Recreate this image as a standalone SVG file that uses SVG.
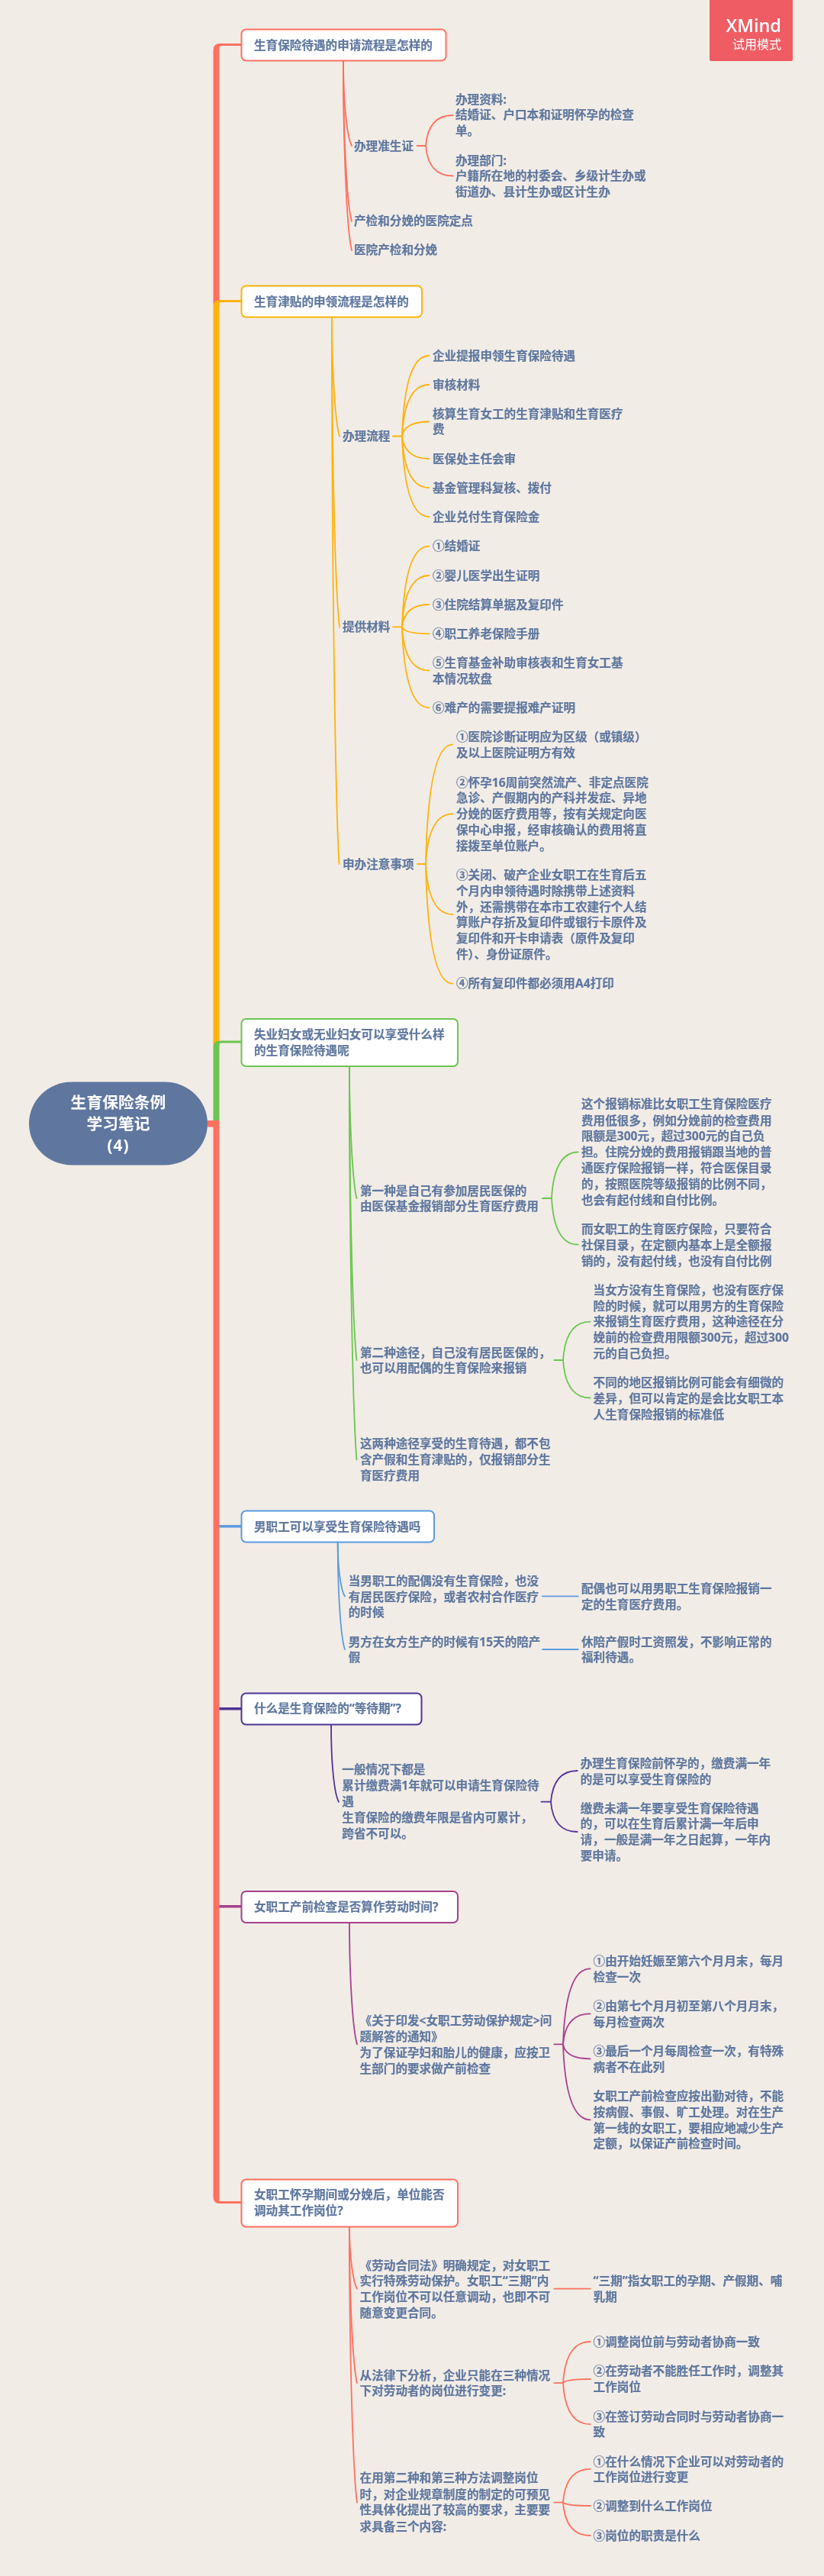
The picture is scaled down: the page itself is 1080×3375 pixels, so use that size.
<svg xmlns="http://www.w3.org/2000/svg" width="1080" height="3375" viewBox="0 0 1080 3375">
<defs><filter id="soft" x="0" y="0" width="1080" height="3375" filterUnits="userSpaceOnUse" primitiveUnits="userSpaceOnUse"><feGaussianBlur stdDeviation="0.4"/></filter></defs>
<style>
text{font-family:"Noto Sans","Noto Sans CJK SC",sans-serif;}
.z{font-family:"Noto Sans CJK SC",sans-serif;}
.t{font-size:15.6px;font-weight:700;fill:#5f779f;stroke:#5f779f;stroke-width:0.2px;}
.box{fill:#fff;stroke-width:2;}
.l{fill:none;stroke-width:1.8;stroke-linecap:round;}
.cr{stroke:#ff6f5e;}.ca{stroke:#ffb20b;}.cg{stroke:#6cc551;}.cb{stroke:#5b9be0;}.cp{stroke:#4e3596;}.cm{stroke:#a6418d;}
</style>
<rect width="1080" height="3375" fill="#f1ece6"/>
<g filter="url(#soft)">
<g id="connectors">
<path fill="#ff6f5e" d="M279.5 400V66Q279.5 57 288.5 57H316.5V60H290Q287.5 60 287.5 63V400Z"/>
<path fill="#ffb20b" d="M279.5 1372V402Q279.5 393 288.5 393H316.5V396H290Q287.5 396 287.5 399V1372Z"/>
<path fill="#6cc551" d="M279.5 1468V1372Q279.5 1363.5 288.5 1363.5H316.5V1366.5H290Q287.5 1366.5 287.5 1369V1468Z"/>
<path fill="#5b9be0" d="M287 1998H316.5V2001.5H287Z"/>
<path fill="#4e3596" d="M287 2237H316.5V2240.5H287Z"/>
<path fill="#a6418d" d="M287 2496H316.5V2499.5H287Z"/>
<path fill="#ff6f5e" d="M272 1468H287.5V2884H316.5V2887H288Q279.5 2887 279.5 2878V1476.5H272Z"/>
<path class="l cr" d="M450 80C450 135 455 180 461 191"/>
<path class="l cr" d="M450 80C450 185 455 269 461 290"/>
<path class="l cr" d="M450 80C450 204 455 303 461 328"/>
<path class="l cr" d="M546.6 191H558C560 167 570 151 593.7 151"/>
<path class="l cr" d="M558 191C560 215 570 230.5 593.7 230.5"/>
<path class="l ca" d="M435 415C435 493 440 556 445 571.5"/>
<path class="l ca" d="M435 415C435 618 440 781 445 821.3"/>
<path class="l ca" d="M435 415C435 774 440 1060 444.5 1132"/>
<path class="l ca" d="M515 571.5H527C529 508 539 466 562.3 466"/>
<path class="l ca" d="M527 571.5C529 531 539 504 562.3 504"/>
<path class="l ca" d="M527 571.5C529 560 539 552.5 562.3 552.5"/>
<path class="l ca" d="M527 571.5C529 589 539 601 562.3 601"/>
<path class="l ca" d="M527 571.5C529 612 539 639 562.3 639"/>
<path class="l ca" d="M527 571.5C529 635 539 677 562.3 677"/>
<path class="l ca" d="M515 821.3H527C529 758 539 715.7 562.3 715.7"/>
<path class="l ca" d="M527 821.3C529 781 539 754 562.3 754"/>
<path class="l ca" d="M527 821.3C529 804 539 792 562.3 792"/>
<path class="l ca" d="M527 821.3C529 827 539 830.4 562.3 830.4"/>
<path class="l ca" d="M527 821.3C529 855.6 539 878.5 562.3 878.5"/>
<path class="l ca" d="M527 821.3C529 885 539 927.2 562.3 927.2"/>
<path class="l ca" d="M547 1132H558C560 1038 570 975.3 593.3 975.3"/>
<path class="l ca" d="M558 1132C560 1092.6 570 1066.3 593.3 1066.3"/>
<path class="l ca" d="M558 1132C560 1171.6 570 1198 593.3 1198"/>
<path class="l ca" d="M558 1132C560 1226 570 1288.7 593.3 1288.7"/>
<path class="l cg" d="M458 1397C458 1483 463 1553 467.5 1570"/>
<path class="l cg" d="M458 1397C458 1590 463 1743 467.5 1782"/>
<path class="l cg" d="M458 1397C458 1655 463 1861 467.5 1912.4"/>
<path class="l cg" d="M711 1570H723C725 1534 735 1509.5 757.7 1509.5"/>
<path class="l cg" d="M723 1570C725 1606 735 1630.7 757.7 1630.7"/>
<path class="l cg" d="M726.4 1782H738C740 1752 750 1731.6 773.6 1731.6"/>
<path class="l cg" d="M738 1782C740 1812 750 1831.5 773.6 1831.5"/>
<path class="l cb" d="M442.7 2021C442.7 2056 447 2084 452 2091.4"/>
<path class="l cb" d="M442.7 2021C442.7 2091 447 2147 452 2161"/>
<path class="l cb" d="M711 2091.4H757.7"/>
<path class="l cb" d="M711 2161H757.7"/>
<path class="l cp" d="M434 2259.5C434 2310 438 2350 444 2360.7"/>
<path class="l cp" d="M709.5 2360.7H722C724 2336 734 2320 756.7 2320"/>
<path class="l cp" d="M722 2360.7C724 2385 734 2400 756.7 2400"/>
<path class="l cm" d="M458 2519C458 2599 463 2662 468 2678.3"/>
<path class="l cm" d="M726.4 2678.3H738C740 2619 750 2579.3 773.6 2579.3"/>
<path class="l cm" d="M738 2678.3C740 2654 750 2638.3 773.6 2638.3"/>
<path class="l cm" d="M738 2678.3C740 2690 750 2697.3 773.6 2697.3"/>
<path class="l cm" d="M738 2678.3C740 2737.7 750 2777.3 773.6 2777.3"/>
<path class="l cr" d="M458 2918C458 2958 463 2990 468 2998.7"/>
<path class="l cr" d="M458 2918C458 3020 463 3102 468 3122.2"/>
<path class="l cr" d="M458 2918C458 3098 463 3242 468 3278.6"/>
<path class="l cr" d="M726.4 2998.7H773.6"/>
<path class="l cr" d="M726.4 3122.2H738C740 3090 750 3068 773.6 3068"/>
<path class="l cr" d="M738 3122.2C740 3119 750 3117 773.6 3117"/>
<path class="l cr" d="M738 3122.2C740 3154.6 750 3176.2 773.6 3176.2"/>
<path class="l cr" d="M726.4 3278.6H738C740 3252 750 3234.9 773.6 3234.9"/>
<path class="l cr" d="M738 3278.6C740 3281 750 3283 773.6 3283"/>
<path class="l cr" d="M738 3278.6C740 3304.6 750 3322 773.6 3322"/>
</g>

<g id="badge"><rect x="930" y="-4" width="109" height="84" rx="2" fill="#ef5b64"/>
<text x="1024" y="41.5" text-anchor="end" font-size="23.5" font-weight="600" fill="#fff" style="font-family:'Open Sans','Noto Sans CJK SC',sans-serif">XMind</text>
<text x="1024" y="64" text-anchor="end" font-size="16" fill="#fff" style="font-family:'Noto Sans CJK SC',sans-serif">试用模式</text></g>

<g id="central"><rect x="38" y="1417.5" width="234" height="109" rx="56" ry="54.5" fill="#5f779f"/>
<g fill="#fff" font-size="20.8" font-weight="700" text-anchor="middle">
<text x="155" y="1451.5">生育保险条例</text><text x="155" y="1479.5">学习笔记</text><text x="155" y="1508" letter-spacing="1">(4)</text></g></g>

<g id="n1"><rect class="box cr" x="316.5" y="38.5" width="268" height="41" rx="6"/><text class="t" x="333" y="64.5">生育保险待遇的申请流程是怎样的</text></g>
<g id="n1-1"><text class="t" x="464" y="196.5">办理准生证</text></g>
<g id="n1-1-1"><text class="t" x="597" y="135.5">办理资料:</text><text class="t" x="597" y="156.2">结婚证、户口本和证明怀孕的检查</text><text class="t" x="597" y="177">单。</text></g>
<g id="n1-1-2"><text class="t" x="597" y="215.5">办理部门:</text><text class="t" x="597" y="236">户籍所在地的村委会、乡级计生办或</text><text class="t" x="597" y="257">街道办、县计生办或区计生办</text></g>
<g id="n1-2"><text class="t" x="464" y="294.5">产检和分娩的医院定点</text></g>
<g id="n1-3"><text class="t" x="464" y="333">医院产检和分娩</text></g>

<g id="n2"><rect class="box ca" x="316.5" y="374.5" width="236.5" height="41" rx="6"/><text class="t" x="333" y="400.5">生育津贴的申领流程是怎样的</text></g>
<g id="n2-1"><text class="t" x="449" y="577">办理流程</text></g>
<g id="n2-1-1"><text class="t" x="567" y="471.5">企业提报申领生育保险待遇</text></g>
<g id="n2-1-2"><text class="t" x="567" y="509.5">审核材料</text></g>
<g id="n2-1-3"><text class="t" x="567" y="547.7">核算生育女工的生育津贴和生育医疗</text><text class="t" x="567" y="568.3">费</text></g>
<g id="n2-1-4"><text class="t" x="567" y="606.5">医保处主任会审</text></g>
<g id="n2-1-5"><text class="t" x="567" y="644.5">基金管理科复核、拨付</text></g>
<g id="n2-1-6"><text class="t" x="567" y="682.5">企业兑付生育保险金</text></g>
<g id="n2-2"><text class="t" x="449" y="826.8">提供材料</text></g>
<g id="n2-2-1"><text class="t" x="567" y="721.2"><tspan class="z">①</tspan>结婚证</text></g>
<g id="n2-2-2"><text class="t" x="567" y="759.5"><tspan class="z">②</tspan>婴儿医学出生证明</text></g>
<g id="n2-2-3"><text class="t" x="567" y="797.5"><tspan class="z">③</tspan>住院结算单据及复印件</text></g>
<g id="n2-2-4"><text class="t" x="567" y="835.9"><tspan class="z">④</tspan>职工养老保险手册</text></g>
<g id="n2-2-5"><text class="t" x="567" y="873.8"><tspan class="z">⑤</tspan>生育基金补助审核表和生育女工基</text><text class="t" x="567" y="894.7">本情况软盘</text></g>
<g id="n2-2-6"><text class="t" x="567" y="932.7"><tspan class="z">⑥</tspan>难产的需要提报难产证明</text></g>
<g id="n2-3"><text class="t" x="449" y="1137.5">申办注意事项</text></g>
<g id="n2-3-1"><text class="t" x="598" y="970.5"><tspan class="z">①</tspan>医院诊断证明应为区级（或镇级）</text><text class="t" x="598" y="992.2">及以上医院证明方有效</text></g>
<g id="n2-3-2"><text class="t" x="598" y="1030.5"><tspan class="z">②</tspan>怀孕16周前突然流产、非定点医院</text><text class="t" x="598" y="1051.2">急诊、产假期内的产科并发症、异地</text><text class="t" x="598" y="1071.8">分娩的医疗费用等，按有关规定向医</text><text class="t" x="598" y="1092.8">保中心申报，经审核确认的费用将直</text><text class="t" x="598" y="1113.5">接拨至单位账户。</text></g>
<g id="n2-3-3"><text class="t" x="598" y="1152.2"><tspan class="z">③</tspan>关闭、破产企业女职工在生育后五</text><text class="t" x="598" y="1172.8">个月内申领待遇时除携带上述资料</text><text class="t" x="598" y="1193.5">外，还需携带在本市工农建行个人结</text><text class="t" x="598" y="1214.2">算账户存折及复印件或银行卡原件及</text><text class="t" x="598" y="1234.8">复印件和开卡申请表（原件及复印</text><text class="t" x="598" y="1255.5">件）、身份证原件。</text></g>
<g id="n2-3-4"><text class="t" x="598" y="1294.2"><tspan class="z">④</tspan>所有复印件都必须用A4打印</text></g>

<g id="n3"><rect class="box cg" x="316.5" y="1335" width="283.5" height="62" rx="6"/><text class="t" x="333" y="1360.8">失业妇女或无业妇女可以享受什么样</text><text class="t" x="333" y="1381.5">的生育保险待遇呢</text></g>
<g id="n3-1"><text class="t" x="472" y="1565.5">第一种是自己有参加居民医保的</text><text class="t" x="472" y="1586.3">由医保基金报销部分生育医疗费用</text></g>
<g id="n3-1-1"><text class="t" x="762" y="1452.4">这个报销标准比女职工生育保险医疗</text><text class="t" x="762" y="1473.7">费用低很多，例如分娩前的检查费用</text><text class="t" x="762" y="1494.4">限额是300元，超过300元的自己负</text><text class="t" x="762" y="1515.4">担。住院分娩的费用报销跟当地的普</text><text class="t" x="762" y="1536.4">通医疗保险报销一样，符合医保目录</text><text class="t" x="762" y="1557">的，按照医院等级报销的比例不同，</text><text class="t" x="762" y="1578">也会有起付线和自付比例。</text></g>
<g id="n3-1-2"><text class="t" x="762" y="1615.9">而女职工的生育医疗保险，只要符合</text><text class="t" x="762" y="1636.6">社保目录，在定额内基本上是全额报</text><text class="t" x="762" y="1657.9">销的，没有起付线，也没有自付比例</text></g>
<g id="n3-2"><text class="t" x="472" y="1777.5">第二种途径，自己没有居民医保的，</text><text class="t" x="472" y="1798.1">也可以用配偶的生育保险来报销</text></g>
<g id="n3-2-1"><text class="t" x="777.6" y="1695.8">当女方没有生育保险，也没有医疗保</text><text class="t" x="777.6" y="1716.5">险的时候，就可以用男方的生育保险</text><text class="t" x="777.6" y="1737.1">来报销生育医疗费用，这种途径在分</text><text class="t" x="777.6" y="1757.8">娩前的检查费用限额300元，超过300</text><text class="t" x="777.6" y="1778.5">元的自己负担。</text></g>
<g id="n3-2-2"><text class="t" x="777.6" y="1817.4">不同的地区报销比例可能会有细微的</text><text class="t" x="777.6" y="1838">差异，但可以肯定的是会比女职工本</text><text class="t" x="777.6" y="1858.7">人生育保险报销的标准低</text></g>
<g id="n3-3"><text class="t" x="472" y="1897.3">这两种途径享受的生育待遇，都不包</text><text class="t" x="472" y="1917.9">含产假和生育津贴的，仅报销部分生</text><text class="t" x="472" y="1938.5">育医疗费用</text></g>

<g id="n4"><rect class="box cb" x="316.5" y="1979.5" width="252.5" height="41" rx="6"/><text class="t" x="333" y="2005.5">男职工可以享受生育保险待遇吗</text></g>
<g id="n4-1"><text class="t" x="456.7" y="2076.5">当男职工的配偶没有生育保险，也没</text><text class="t" x="456.7" y="2097.5">有居民医疗保险，或者农村合作医疗</text><text class="t" x="456.7" y="2118.4">的时候</text></g>
<g id="n4-1-1"><text class="t" x="762" y="2086.9">配偶也可以用男职工生育保险报销一</text><text class="t" x="762" y="2108">定的生育医疗费用。</text></g>
<g id="n4-2"><text class="t" x="456.7" y="2156.5">男方在女方生产的时候有15天的陪产</text><text class="t" x="456.7" y="2177.3">假</text></g>
<g id="n4-2-1"><text class="t" x="762" y="2156.5">休陪产假时工资照发，不影响正常的</text><text class="t" x="762" y="2177.3">福利待遇。</text></g>

<g id="n5"><rect class="box cp" x="316.5" y="2218.5" width="236" height="41" rx="6"/><text class="t" x="333" y="2244.3">什么是生育保险的“等待期”?</text></g>
<g id="n5-1"><text class="t" x="448.3" y="2324.1">一般情况下都是</text><text class="t" x="448.3" y="2344.8">累计缴费满1年就可以申请生育保险待</text><text class="t" x="448.3" y="2365.5">遇</text><text class="t" x="448.3" y="2386.9">生育保险的缴费年限是省内可累计，</text><text class="t" x="448.3" y="2407.6">跨省不可以。</text></g>
<g id="n5-1-1"><text class="t" x="760.7" y="2315.5">办理生育保险前怀孕的，缴费满一年</text><text class="t" x="760.7" y="2336.5">的是可以享受生育保险的</text></g>
<g id="n5-1-2"><text class="t" x="760.7" y="2374.5">缴费未满一年要享受生育保险待遇</text><text class="t" x="760.7" y="2395.1">的，可以在生育后累计满一年后申</text><text class="t" x="760.7" y="2416.2">请，一般是满一年之日起算，一年内</text><text class="t" x="760.7" y="2436.9">要申请。</text></g>

<g id="n6"><rect class="box cm" x="316.5" y="2478" width="283.5" height="41" rx="6"/><text class="t" x="333" y="2503.5">女职工产前检查是否算作劳动时间?</text></g>
<g id="n6-1"><text class="t" x="471.6" y="2653.2">《关于印发&lt;女职工劳动保护规定&gt;问</text><text class="t" x="471.6" y="2673.8">题解答的通知》</text><text class="t" x="471.6" y="2694.8">为了保证孕妇和胎儿的健康，应按卫</text><text class="t" x="471.6" y="2715.5">生部门的要求做产前检查</text></g>
<g id="n6-1-1"><text class="t" x="777.6" y="2574.8"><tspan class="z">①</tspan>由开始妊娠至第六个月月末，每月</text><text class="t" x="777.6" y="2595.5">检查一次</text></g>
<g id="n6-1-2"><text class="t" x="777.6" y="2634.2"><tspan class="z">②</tspan>由第七个月月初至第八个月月末，</text><text class="t" x="777.6" y="2654.8">每月检查两次</text></g>
<g id="n6-1-3"><text class="t" x="777.6" y="2693.2"><tspan class="z">③</tspan>最后一个月每周检查一次，有特殊</text><text class="t" x="777.6" y="2713.8">病者不在此列</text></g>
<g id="n6-1-4"><text class="t" x="777.6" y="2752.2">女职工产前检查应按出勤对待，不能</text><text class="t" x="777.6" y="2772.8">按病假、事假、旷工处理。对在生产</text><text class="t" x="777.6" y="2793.5">第一线的女职工，要相应地减少生产</text><text class="t" x="777.6" y="2814.2">定额，以保证产前检查时间。</text></g>

<g id="n7"><rect class="box cr" x="316.5" y="2855.5" width="283.5" height="62" rx="6"/><text class="t" x="333" y="2881.3">女职工怀孕期间或分娩后，单位能否</text><text class="t" x="333" y="2902.2">调动其工作岗位?</text></g>
<g id="n7-1"><text class="t" x="471.6" y="2973.5">《劳动合同法》明确规定，对女职工</text><text class="t" x="471.6" y="2994.3">实行特殊劳动保护。女职工“三期”内</text><text class="t" x="471.6" y="3015.1">工作岗位不可以任意调动，也即不可</text><text class="t" x="471.6" y="3035.9">随意变更合同。</text></g>
<g id="n7-1-1"><text class="t" x="777.6" y="2994">“三期”指女职工的孕期、产假期、哺</text><text class="t" x="777.6" y="3014.8">乳期</text></g>
<g id="n7-2"><text class="t" x="471.6" y="3117.5">从法律下分析，企业只能在三种情况</text><text class="t" x="471.6" y="3138.3">下对劳动者的岗位进行变更:</text></g>
<g id="n7-2-1"><text class="t" x="777.6" y="3074.2"><tspan class="z">①</tspan>调整岗位前与劳动者协商一致</text></g>
<g id="n7-2-2"><text class="t" x="777.6" y="3112.4"><tspan class="z">②</tspan>在劳动者不能胜任工作时，调整其</text><text class="t" x="777.6" y="3132.9">工作岗位</text></g>
<g id="n7-2-3"><text class="t" x="777.6" y="3171.5"><tspan class="z">③</tspan>在签订劳动合同时与劳动者协商一</text><text class="t" x="777.6" y="3191.9">致</text></g>
<g id="n7-3"><text class="t" x="471.6" y="3252.3">在用第二种和第三种方法调整岗位</text><text class="t" x="471.6" y="3273.5">时，对企业规章制度的制定的可预见</text><text class="t" x="471.6" y="3294.3">性具体化提出了较高的要求，主要要</text><text class="t" x="471.6" y="3315.5">求具备三个内容:</text></g>
<g id="n7-3-1"><text class="t" x="777.6" y="3230.5"><tspan class="z">①</tspan>在什么情况下企业可以对劳动者的</text><text class="t" x="777.6" y="3251">工作岗位进行变更</text></g>
<g id="n7-3-2"><text class="t" x="777.6" y="3289.2"><tspan class="z">②</tspan>调整到什么工作岗位</text></g>
<g id="n7-3-3"><text class="t" x="777.6" y="3327.8"><tspan class="z">③</tspan>岗位的职责是什么</text></g>
</g>
</svg>
